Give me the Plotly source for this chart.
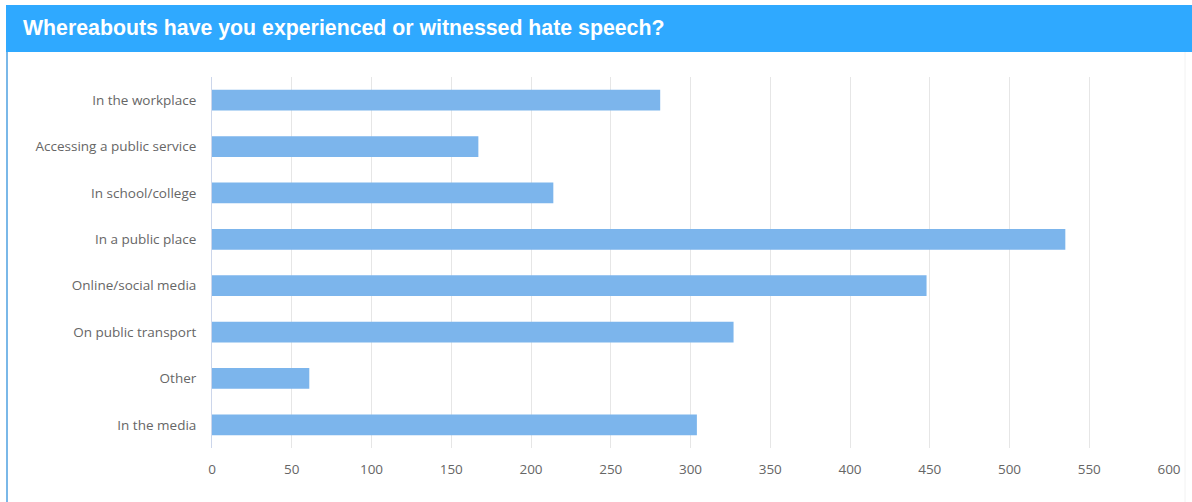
import plotly.graph_objects as go

# Survey responses: where people experienced or witnessed hate speech
categories = [
    "In the workplace",
    "Accessing a public service",
    "In school/college",
    "In a public place",
    "Online/social media",
    "On public transport",
    "Other",
    "In the media",
]
counts = [281, 167, 214, 535, 448, 327, 61, 304]
x_ticks = [0, 50, 100, 150, 200, 250, 300, 350, 400, 450, 500, 550, 600]

title_text = "Whereabouts have you experienced or witnessed hate speech?"

W, H = 1192, 502
M_L, M_R, M_T, M_B = 212, 23, 77, 54

fig = go.Figure(
    go.Bar(
        x=counts,
        y=categories,
        orientation="h",
        width=0.45,
        marker=dict(color="#7cb5ec", line=dict(width=0)),
        hoverinfo="x+y",
    )
)

fig.update_layout(
    width=W,
    height=H,
    margin=dict(l=M_L, r=M_R, t=M_T, b=M_B, pad=0),
    paper_bgcolor="white",
    plot_bgcolor="white",
    showlegend=False,
    font=dict(family="Open Sans, sans-serif", size=13.5, color="#666666"),
    xaxis=dict(
        range=[0, 600],
        tickvals=x_ticks,
        showgrid=True,
        gridcolor="#e6e6e6",
        gridwidth=1,
        zeroline=False,
        showline=False,
        ticks="outside",
        ticklen=9,
        tickcolor="rgba(0,0,0,0)",
        tickfont=dict(size=13.5, color="#666666"),
        fixedrange=True,
    ),
    yaxis=dict(
        categoryorder="array",
        categoryarray=categories[::-1],
        autorange=False,
        range=[-0.5, len(categories) - 0.5],
        showgrid=False,
        zeroline=False,
        showline=True,
        linecolor="#ccd6eb",
        linewidth=1,
        ticks="outside",
        ticklen=12,
        tickcolor="rgba(0,0,0,0)",
        tickfont=dict(size=13.5, color="#666666"),
        fixedrange=True,
    ),
    shapes=[
        # header band
        dict(type="rect", xref="paper", yref="paper",
             x0=(6 - M_L) / (W - M_L - M_R), x1=(W - M_L) / (W - M_L - M_R),
             y0=(H - M_B - 52) / (H - M_T - M_B), y1=(H - M_B - 5) / (H - M_T - M_B),
             fillcolor="#2fa9ff", line=dict(width=0), layer="below"),
        # panel left border
        dict(type="line", xref="paper", yref="paper",
             x0=(7 - M_L) / (W - M_L - M_R), x1=(7 - M_L) / (W - M_L - M_R),
             y0=(H - M_B - 52) / (H - M_T - M_B), y1=(H - M_B - H) / (H - M_T - M_B),
             line=dict(color="#7ab8e8", width=2), layer="below"),
        # panel right border
        dict(type="line", xref="paper", yref="paper",
             x0=(1185 - M_L) / (W - M_L - M_R), x1=(1185 - M_L) / (W - M_L - M_R),
             y0=(H - M_B - 52) / (H - M_T - M_B), y1=(H - M_B - H) / (H - M_T - M_B),
             line=dict(color="#f2f2f2", width=1), layer="below"),
    ],
    annotations=[
        dict(text="<b>" + title_text + "</b>", xref="paper", yref="paper",
             x=(21 - M_L) / (W - M_L - M_R), xanchor="left",
             y=(H - M_B - 28) / (H - M_T - M_B), yanchor="middle",
             showarrow=False,
             font=dict(family="Liberation Sans, Arial, sans-serif", size=21.3, color="white")),
    ],
)

fig.write_html("out.html")
